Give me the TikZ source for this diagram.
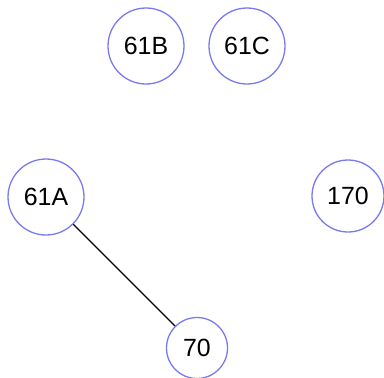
\documentclass[tikz,border=0pt]{standalone}
\usepackage{fontspec}
\setmainfont{Liberation Sans}
\definecolor{ringblue}{RGB}{122,122,240}
\begin{document}
\begin{tikzpicture}[x=1bp,y=-1bp,
  vertex/.style={circle,draw=ringblue,line width=1.3bp,fill=white,inner sep=0pt,
    font=\fontsize{25}{30}\selectfont},
  edge/.style={draw=black,line width=1.3bp}]
\useasboundingbox (0,0) rectangle (384,378);
\node[vertex,minimum size=76bp] (n61B) at (146,46) {61B};
\node[vertex,minimum size=76bp] (n61C) at (247,46) {61C};
\node[vertex,minimum size=76bp] (n61A) at (46,197) {61A};
\node[vertex,minimum size=72bp] (n170) at (348,196) {170};
\node[vertex,minimum size=61bp] (n70) at (197,348) {70};
\draw[edge] (n61A) -- (n70);
\end{tikzpicture}
\end{document}
